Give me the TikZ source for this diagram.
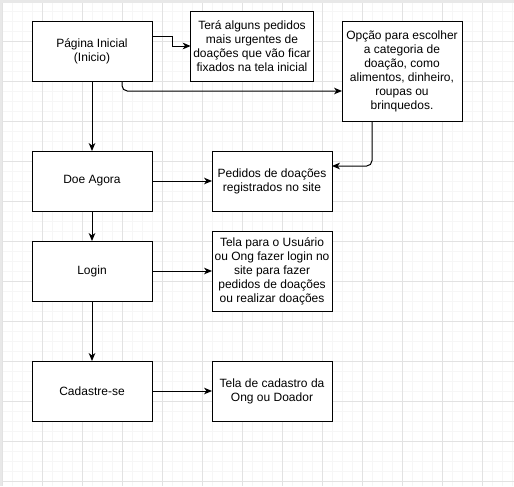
\documentclass[tikz,border=0pt]{standalone}
\usepackage{fontspec}
\setmainfont{Liberation Sans}
\usetikzlibrary{arrows.meta,positioning}
\definecolor{gridMinor}{RGB}{246,246,246}
\definecolor{gridMajor}{RGB}{226,226,226}
\definecolor{canvasEdge}{RGB}{232,232,232}

\begin{document}
\begin{tikzpicture}[x=0.75pt, y=-0.75pt, node distance=45pt, >={Stealth[length=6pt, width=5pt, inset=1.8pt]}]
    \tikzstyle{block} = [rectangle, draw, line width=0.75pt, fill=white, minimum width=90pt, minimum height=45pt, align=center, outer sep=0pt, inner sep=2pt, font=\fontsize{9}{10.5}\selectfont]
    \tikzstyle{line} = [draw, ->, line width=0.75pt]

    % fundo quadriculado
    \useasboundingbox (0,0) rectangle (514,486);
    \fill[white] (0,0) rectangle (514,486);
    \foreach \x in {2,12,...,512} \draw[gridMinor, line width=0.75pt] (\x,0) -- (\x,486);
    \foreach \y in {1,11,...,481} \draw[gridMinor, line width=0.75pt] (0,\y) -- (514,\y);
    \foreach \x in {2,42,...,482} \draw[gridMajor, line width=0.75pt] (\x,0) -- (\x,486);
    \foreach \y in {1,41,...,481} \draw[gridMajor, line width=0.75pt] (0,\y) -- (514,\y);
    \fill[canvasEdge] (0,0) rectangle (514,3);
    \fill[canvasEdge] (0,0) rectangle (2,486);

    % coluna principal
    \node [block] (inicial) at (92,51) {Página Inicial\\(Inicio)};
    \node [block, below=52.5pt of inicial] (doe) {Doe Agora};
    \node [block, below=22.5pt of doe] (login) {Login};
    \node [block, below=45pt of login] (cadastro) {Cadastre-se};

    % telas
    \node [block, minimum height=52.5pt] (destaques) at (252,46) {Terá alguns pedidos\\mais urgentes de\\doações que vão ficar\\fixados na tela inicial};
    \node [block, minimum height=75pt] (categorias) at (402,71) {Opção para escolher\\a categoria de\\doação, como\\alimentos, dinheiro,\\roupas ou\\brinquedos.};
    \node [block, right=of doe] (pedidos) {Pedidos de doações\\registrados no site};
    \node [block, right=of login, minimum height=60pt] (telaLogin) {Tela para o Usuário\\ou Ong fazer login no\\site para fazer\\pedidos de doações\\ou realizar doações};
    \node [block, right=of cadastro] (telaCadastro) {Tela de cadastro da\\Ong ou Doador};

    \path [line] ([yshift=11.25pt]inicial.east) -- ++(20,0) |- (destaques.west);
    \path [line, rounded corners=4pt] ([xshift=22.5pt]inicial.south) |- ([yshift=-15pt]categorias.west);
    \path [line, rounded corners=4pt] ([xshift=-22.5pt]categorias.south) |- ([yshift=11.25pt]pedidos.east);
    \path [line] (inicial) -- (doe);
    \path [line] (doe) -- (pedidos);
    \path [line] (doe) -- (login);
    \path [line] (login) -- (telaLogin);
    \path [line] (login) -- (cadastro);
    \path [line] (cadastro) -- (telaCadastro);
\end{tikzpicture}
\end{document}
